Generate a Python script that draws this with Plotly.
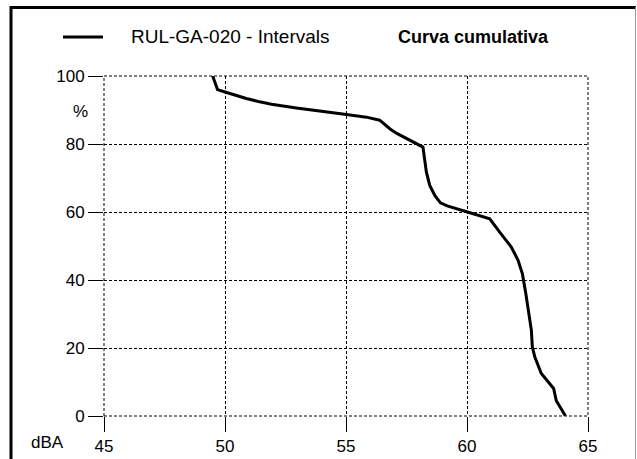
import plotly.graph_objects as go

# Cumulative distribution of sound levels (dBA) vs percentage of intervals
dba = [49.49, 49.69, 50.00, 50.33, 50.88, 51.43, 51.92, 52.95, 53.78, 55.02,
       55.84, 56.39, 56.81, 57.08, 58.18, 58.32, 58.46, 58.67, 58.90, 59.18,
       60.02, 60.94, 61.35, 61.83, 62.11, 62.29, 62.43, 62.56, 62.66, 62.70,
       62.80, 63.07, 63.42, 63.58, 63.69, 64.07]
pct = [100.0, 96.0, 95.3, 94.5, 93.4, 92.4, 91.7, 90.6, 89.9, 88.7,
       87.9, 87.0, 84.5, 83.2, 79.1, 71.8, 67.8, 64.9, 62.7, 61.8,
       60.0, 58.0, 54.1, 49.7, 45.8, 41.8, 36.0, 29.1, 25.2, 20.3,
       17.4, 12.5, 9.5, 8.1, 4.5, 0.0]

x_ticks = [45, 50, 55, 60, 65]
y_ticks = [0, 20, 40, 60, 80, 100]

series_name = "RUL-GA-020 - Intervals"
chart_title = "Curva cumulativa"
x_unit = "dBA"
y_unit = "%"

FONT = "Liberation Sans, Arial, sans-serif"
W, H = 637, 459
ML, MR, MT, MB = 104, 49, 76, 43

fig = go.Figure()
fig.add_trace(go.Scatter(
    x=dba, y=pct, mode="lines", name=series_name, showlegend=False,
    line=dict(color="black", width=3),
))

pw = W - ML - MR
ph = H - MT - MB


def px_x(p):
    return (p - ML) / pw


def px_y(p):
    return 1 - (p - MT) / ph


GRID_DASH = "3px,2px"

axis_common = dict(
    showline=False, zeroline=False, automargin=False,
    showgrid=True, gridcolor="black", gridwidth=1, griddash=GRID_DASH,
    ticks="outside", ticklen=15, tickwidth=1, tickcolor="black",
    tickfont=dict(family=FONT, size=17, color="black"),
)

fig.update_xaxes(range=[45, 65], tickvals=x_ticks, **axis_common)
fig.update_yaxes(range=[0, 100], tickvals=y_ticks, **axis_common)

shapes = [
    # dashed border of the plotting area (edge grid lines)
    dict(type="rect", xref="paper", yref="paper", x0=0, x1=1, y0=0, y1=1,
         line=dict(color="black", width=1, dash=GRID_DASH), layer="below"),
    # outer frame: heavy top/left edges, light right edge
    dict(type="line", xref="paper", yref="paper", x0=px_x(11), x1=px_x(636),
         y0=px_y(7.5), y1=px_y(7.5), line=dict(color="black", width=3)),
    dict(type="line", xref="paper", yref="paper", x0=px_x(11), x1=px_x(11),
         y0=px_y(6), y1=px_y(470), line=dict(color="black", width=3)),
    dict(type="line", xref="paper", yref="paper", x0=px_x(635.5), x1=px_x(635.5),
         y0=px_y(7), y1=px_y(470), line=dict(color="#9a9a9a", width=1)),
    # legend sample line
    dict(type="line", xref="paper", yref="paper", x0=px_x(63), x1=px_x(103),
         y0=px_y(37), y1=px_y(37), line=dict(color="black", width=3)),
]

annotations = [
    dict(text=series_name, xref="paper", yref="paper", x=px_x(129), y=px_y(37),
         xanchor="left", yanchor="middle", showarrow=False,
         font=dict(family=FONT, size=19, color="black")),
    dict(text="<b>%s</b>" % chart_title, xref="paper", yref="paper", x=px_x(396), y=px_y(37),
         xanchor="left", yanchor="middle", showarrow=False,
         font=dict(family=FONT, size=18, color="black")),
    dict(text=y_unit, xref="paper", yref="paper", x=px_x(80), y=px_y(112),
         xanchor="center", yanchor="middle", showarrow=False,
         font=dict(family=FONT, size=17, color="black")),
    dict(text=x_unit, xref="paper", yref="paper", x=px_x(47), y=px_y(442),
         xanchor="center", yanchor="middle", showarrow=False,
         font=dict(family=FONT, size=17, color="black")),
]

fig.update_layout(
    width=W, height=H,
    margin=dict(l=ML, r=MR, t=MT, b=MB, pad=0),
    paper_bgcolor="white", plot_bgcolor="white",
    shapes=shapes, annotations=annotations,
    showlegend=False,
)

fig.write_html("out.html")
